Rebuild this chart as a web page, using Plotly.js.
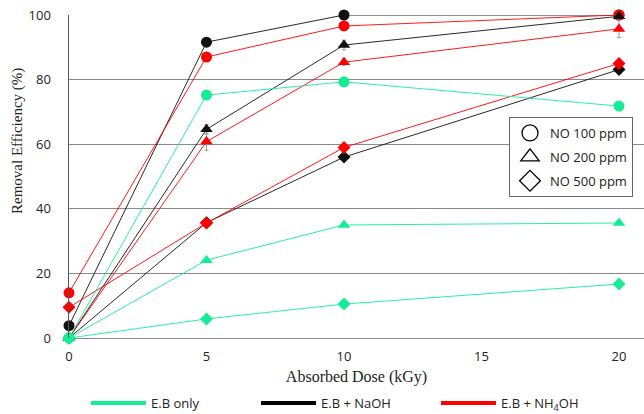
<!DOCTYPE html>
<html><head><meta charset="utf-8">
<script src="https://cdn.plot.ly/plotly-3.0.1.min.js"></script>
<style>html,body{margin:0;padding:0;background:#fff}#chart{width:644px;height:414px}</style>
</head><body><div id="chart"></div>
<script>
const dose = [0, 5, 10, 20];
// E.B only
const ebOnly100 = [0, 75.2, 79.3, 71.8];
const ebOnly200 = [0, 24.1, 35.0, 35.6];
const ebOnly500 = [0, 5.9, 10.5, 16.7];
// E.B + NaOH
const naoh100 = [3.8, 91.6, 100, 100];
const naoh200 = [0, 64.6, 90.7, 99.6];
const naoh500 = [0, 35.7, 56.0, 83.1];
const naoh200Err = [0, 1.5, 1.5, 0.5];
// E.B + NH4OH
const nh4oh100 = [14.0, 87.0, 96.6, 100];
const nh4oh200 = [0, 60.8, 85.4, 95.7];
const nh4oh500 = [9.5, 35.6, 59.0, 85.0];
const nh4oh200Err = [0, 2.7, 1.0, 2.7];

const groupNames = ['E.B only', 'E.B + NaOH', 'E.B + NH<sub>4</sub>OH'];
const concNames = ['NO 100 ppm', 'NO 200 ppm', 'NO 500 ppm'];
const xTicks = [0, 5, 10, 15, 20];
const yTicks = [0, 20, 40, 60, 80, 100];

const GREEN = '#14ec96', BLACK = '#111111', RED = '#ff0000';

function tr(y, color, symbol, size, err) {
  const t = {x: dose, y: y, type: 'scatter', mode: 'lines+markers', showlegend: false,
    cliponaxis: false,
    line: {color: color, width: 0.9},
    marker: {color: color, symbol: symbol, size: size}};
  if (err) t.error_y = {type: 'data', array: err, visible: true, color: '#999', thickness: 1, width: 2};
  return t;
}

const data = [
  tr(naoh100, BLACK, 'circle', 11),
  tr(nh4oh100, RED, 'circle', 11),
  tr(naoh200, BLACK, 'triangle-up', 11, naoh200Err),
  tr(nh4oh200, RED, 'triangle-up', 11, nh4oh200Err),
  tr(naoh500, BLACK, 'diamond', 10),
  tr(nh4oh500, RED, 'diamond', 10),
  tr(ebOnly100, GREEN, 'circle', 11),
  tr(ebOnly200, GREEN, 'triangle-up', 11),
  tr(ebOnly500, GREEN, 'diamond', 10),
];

// color legends (bottom)
const legKeys = ['legend2', 'legend2', 'legend3'];
[GREEN, '#000', RED].forEach((c, i) => {
  data.push({x: [null], y: [null], type: 'scatter', mode: 'lines', name: groupNames[i],
    line: {color: c, width: 4}, legend: legKeys[i], showlegend: true});
});
// symbol legend (inside)
['circle-open', 'triangle-up-open', 'diamond-open'].forEach((s, i) => {
  data.push({x: [null], y: [null], type: 'scatter', mode: 'markers', name: concNames[i],
    marker: {color: '#000', symbol: s, size: 18, line: {width: 1.3, color: '#000'}},
    legend: 'legend', legendgroup: 'g' + i, showlegend: true});
});

const serif = 'Liberation Serif, Times New Roman, serif';
const layout = {
  width: 644, height: 414,
  margin: {l: 69, r: 0, t: 15, b: 76, autoexpand: false},
  paper_bgcolor: '#fff', plot_bgcolor: '#fff',
  font: {family: 'Open Sans, sans-serif', color: '#222'},
  xaxis: {range: [0, 20.91], tickvals: xTicks, showgrid: false, zeroline: false,
    showline: false, ticks: '', tickfont: {size: 13, color: '#222'}, ticklabelstandoff: 9,
    title: {text: 'Absorbed Dose (kGy)', font: {family: serif, size: 16, color: '#222'}, standoff: 6}},
  yaxis: {range: [0, 100], tickvals: yTicks, showgrid: true, gridcolor: '#8a8a8a', gridwidth: 1,
    zeroline: true, zerolinecolor: '#8a8a8a', showline: true, linecolor: '#555', linewidth: 1.5,
    ticks: '', tickfont: {size: 13, color: '#222'}, ticklabelstandoff: 14},
  annotations: [{text: 'Removal Efficiency (%)', xref: 'paper', yref: 'paper', x: -52/575, y: (338-141)/323,
    textangle: -90, showarrow: false, font: {family: serif, size: 15, color: '#222'}, xanchor: 'center', yanchor: 'middle'}],
  legend: {xref: 'paper', yref: 'paper', x: (509-69)/575, y: (338-117)/323, xanchor: 'left', yanchor: 'top',
    bordercolor: '#666', borderwidth: 1, bgcolor: '#fff', font: {size: 13, color: '#222'},
    itemsizing: 'trace', tracegroupgap: 4},
  legend2: {xref: 'container', yref: 'container', x: 86/644, y: 1 - 388/414, xanchor: 'left', yanchor: 'top',
    orientation: 'h', font: {size: 13, color: '#222'}, itemwidth: 55, entrywidth: 100, entrywidthmode: 'pixels', bgcolor: 'rgba(0,0,0,0)'},
  legend3: {xref: 'container', yref: 'container', x: 436/644, y: 1 - 388/414, xanchor: 'left', yanchor: 'top',
    orientation: 'h', font: {size: 13, color: '#222'}, itemwidth: 55, bgcolor: 'rgba(0,0,0,0)'}
};

Plotly.newPlot('chart', data, layout, {displayModeBar: false, staticPlot: true});
</script></body></html>
